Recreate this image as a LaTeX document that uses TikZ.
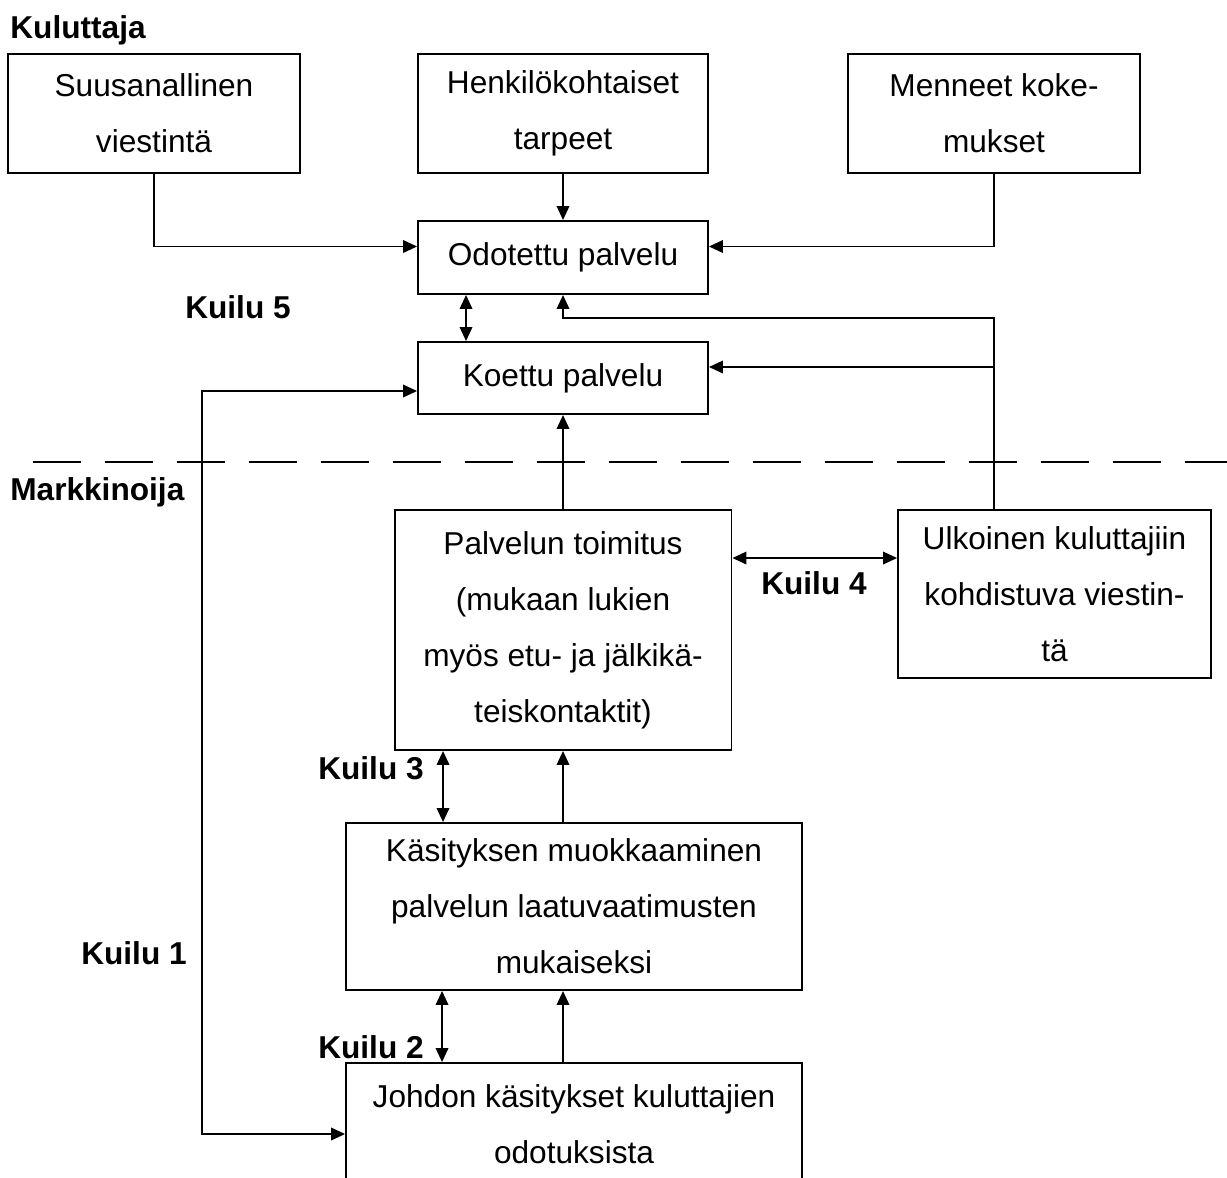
\documentclass[tikz,border=0pt]{standalone}
\usepackage{fontspec}
\setmainfont{Liberation Sans}
\usepackage{tikz}
\usetikzlibrary{arrows.meta, positioning, calc}

\newcommand{\gapfont}{\fontsize{18}{31.9}\selectfont}

\begin{document}
\begin{tikzpicture}[x=0.02cm, y=-0.02cm,
    box/.style={draw, line width=1.1pt, inner sep=0pt, align=center, font=\gapfont},
    gaplabel/.style={font=\gapfont\bfseries, inner sep=0pt},
    arr/.style={line width=1.1pt, -{Triangle[length=0.28cm, width=0.25cm]}},
    arrtwo/.style={line width=1.1pt, {Triangle[length=0.28cm, width=0.25cm]}-{Triangle[length=0.28cm, width=0.25cm]}}]
    \useasboundingbox (0,0) rectangle (1227,1177);

    % kuluttajan puoli
    \node[gaplabel, anchor=west] (kuluttaja) at (10,30) {Kuluttaja};
    \node[box, minimum width=5.84cm, minimum height=2.38cm] (suus) at (154,113.5)
      {Suusanallinen\\viestintä};
    \node[box, minimum width=5.8cm, minimum height=2.38cm] (tarpeet) at (563,113.5)
      {Henkilökohtaiset\\tarpeet};
    \node[box, minimum width=5.84cm, minimum height=2.38cm] (kokemukset) at (994,113.5)
      {Menneet koke-\\mukset};
    \node[box, minimum width=5.8cm, minimum height=1.46cm] (odotettu) at (563,257.5)
      {Odotettu palvelu};
    \node[box, minimum width=5.8cm, minimum height=1.44cm] (koettu) at (563,378)
      {Koettu palvelu};
    \node[gaplabel] (kuilu5) at (238,307) {Kuilu 5};

    % raja
    \draw[line width=1.1pt, dash pattern=on 0.96cm off 0.48cm] (33,462) -- (1240,462);

    % markkinoijan puoli
    \node[gaplabel, anchor=west] (markkinoija) at (10,492) {Markkinoija};
    \node[box, minimum width=6.74cm, minimum height=4.8cm] (toimitus) at (563,630)
      {Palvelun toimitus\\(mukaan lukien\\myös etu- ja jälkikä-\\teiskontaktit)};
    \node[box, minimum width=6.26cm, minimum height=3.36cm] (viestinta) at (1054.5,594)
      {Ulkoinen kuluttajiin\\kohdistuva viestin-\\tä};
    \node[box, minimum width=9.12cm, minimum height=3.34cm] (muokkaus) at (574,906.5)
      {Käsityksen muokkaaminen\\palvelun laatuvaatimusten\\mukaiseksi};
    \node[box, minimum width=9.12cm, minimum height=2.44cm] (johto) at (574,1124)
      {Johdon käsitykset kuluttajien\\odotuksista};
    \node[gaplabel] (kuilu4) at (814,583) {Kuilu 4};
    \node[gaplabel] (kuilu3) at (371,768) {Kuilu 3};
    \node[gaplabel] (kuilu2) at (371,1047) {Kuilu 2};
    \node[gaplabel] (kuilu1) at (134,953) {Kuilu 1};

    \coordinate (haara) at (994,318);
    \coordinate (k1) at (202,1134);
    \coordinate (koettuoik) at ([yshift=0.22cm]koettu.east);

    % yhteydet
    \draw[arr] (suus.south) |- ([yshift=0.22cm]odotettu.west);
    \draw[arr] (tarpeet) -- (odotettu);
    \draw[arr] (kokemukset.south) |- ([yshift=0.22cm]odotettu.east);
    \draw[arrtwo] ([xshift=-1.94cm]odotettu.south) -- ([xshift=-1.94cm]koettu.north);
    \draw[arr] (viestinta.north -| haara) -- (haara) -| (odotettu.south);
    \draw[arr] (haara |- koettuoik) -- (koettuoik);
    \draw[arr] (toimitus) -- (koettu);
    \draw[arrtwo] ([yshift=1.44cm]toimitus.east) -- ([yshift=1.44cm]toimitus.east -| viestinta.west);
    \draw[arrtwo] ([xshift=-2.4cm]toimitus.south) -- ([xshift=-2.4cm]toimitus.south |- muokkaus.north);
    \draw[arr] (toimitus.south |- muokkaus.north) -- (toimitus.south);
    \draw[arrtwo] ([xshift=-2.64cm]muokkaus.south) -- ([xshift=-2.64cm]muokkaus.south |- johto.north);
    \draw[arr] (toimitus.south |- johto.north) -- (toimitus.south |- muokkaus.south);
    \draw[arrtwo] ([yshift=-0.26cm]koettu.west) -| (k1) -- (k1 -| johto.west);
\end{tikzpicture}
\end{document}
